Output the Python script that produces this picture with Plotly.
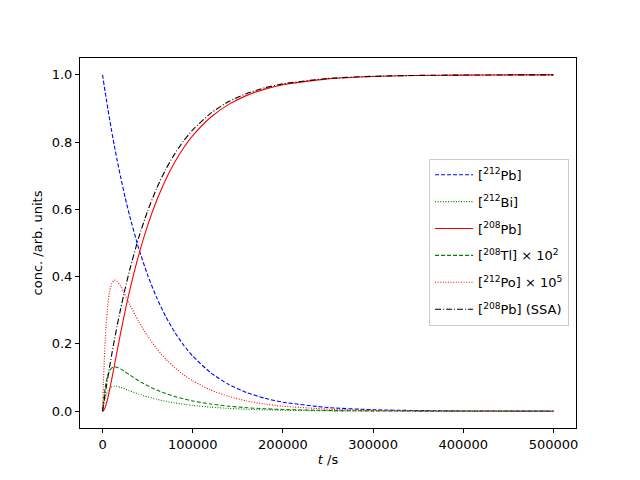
import plotly.graph_objects as go

# time grid (s) and concentrations
t = [0, 1000, 2000, 3000, 4000, 6000, 8000, 10000, 13000, 16000, 20000, 25000,
     30000, 40000, 50000, 60000, 70000, 80000, 90000, 100000, 120000, 140000,
     160000, 180000, 200000, 250000, 300000, 350000, 400000, 450000, 500000]

pb212 = [1.0, 0.9821, 0.9645, 0.9472, 0.9302, 0.8971, 0.8652, 0.8344, 0.7903,
         0.7485, 0.6963, 0.6360, 0.5810, 0.4848, 0.4045, 0.3376, 0.2817, 0.2350,
         0.1961, 0.1637, 0.1140, 0.0793, 0.0552, 0.0385, 0.0268, 0.0108, 0.0044,
         0.0018, 0.0007, 0.0003, 0.0001]

bi212 = [0.0, 0.0163, 0.0295, 0.0401, 0.0486, 0.0607, 0.0679, 0.0719, 0.0741,
         0.0735, 0.0707, 0.0658, 0.0606, 0.0508, 0.0424, 0.0354, 0.0295, 0.0246,
         0.0206, 0.0172, 0.0119, 0.0083, 0.0058, 0.0040, 0.0028, 0.0011, 0.0005,
         0.0002, 0.0001, 0.0, 0.0]

pb208 = [0.0, 0.0013, 0.0055, 0.0120, 0.0203, 0.0412, 0.0657, 0.0924, 0.1343,
         0.1766, 0.2318, 0.2970, 0.3574, 0.4635, 0.5523, 0.6264, 0.6883, 0.7399,
         0.7830, 0.8189, 0.8739, 0.9122, 0.9389, 0.9574, 0.9704, 0.9880, 0.9952,
         0.9980, 0.9992, 0.9997, 0.9999]

tl208_x100 = [0.0, 0.0291, 0.0525, 0.0715, 0.0866, 0.1080, 0.1209, 0.1280, 0.1318,
              0.1308, 0.1258, 0.1171, 0.1078, 0.0904, 0.0755, 0.0630, 0.0525, 0.0438,
              0.0366, 0.0305, 0.0213, 0.0148, 0.0103, 0.0072, 0.0050, 0.0020, 0.0008,
              0.0003, 0.0001, 0.0001, 0.0]

po212_x1e5 = [0.0, 0.0859, 0.1553, 0.2111, 0.2558, 0.3191, 0.3572, 0.3782, 0.3896,
              0.3866, 0.3717, 0.3460, 0.3185, 0.2670, 0.2230, 0.1861, 0.1553, 0.1296,
              0.1081, 0.0902, 0.0628, 0.0438, 0.0305, 0.0212, 0.0148, 0.0060, 0.0024,
              0.0010, 0.0004, 0.0002, 0.0001]

pb208_ssa = [0.0, 0.0179, 0.0356, 0.0529, 0.0698, 0.1029, 0.1348, 0.1656, 0.2097,
             0.2515, 0.3037, 0.3640, 0.4190, 0.5152, 0.5955, 0.6624, 0.7183, 0.7650,
             0.8039, 0.8364, 0.8861, 0.9207, 0.9448, 0.9615, 0.9732, 0.9892, 0.9956,
             0.9982, 0.9993, 0.9997, 0.9999]

DASHED = "4px,2px"
DOTTED = "1px,1.6px"
DASHDOT = "6px,2px,1px,2px"

series = [
    ("[<sup>212</sup>Pb]", pb212, "#0000ff", DASHED),
    ("[<sup>212</sup>Bi]", bi212, "#008000", DOTTED),
    ("[<sup>208</sup>Pb]", pb208, "#ff0000", "solid"),
    ("[<sup>208</sup>Tl] × 10<sup>2</sup>", tl208_x100, "#008000", DASHED),
    ("[<sup>212</sup>Po] × 10<sup>5</sup>", po212_x1e5, "#ff0000", DOTTED),
    ("[<sup>208</sup>Pb] (SSA)", pb208_ssa, "#000000", DASHDOT),
]

fig = go.Figure()
for i, (name, y, color, dash) in enumerate(series):
    fig.add_trace(go.Scatter(
        x=t, y=y, name=name, mode="lines", legendgroup=str(i),
        line=dict(color=color, dash=dash, width=1.1, shape="spline", smoothing=0.6),
    ))

axis_style = dict(
    showgrid=False, zeroline=False, showline=True, linecolor="black",
    linewidth=1, mirror=True, ticks="outside", ticklen=4, tickcolor="black",
    tickfont=dict(size=13), title_font=dict(size=13),
)

# page body has an 8px offset, so margins are shifted to match the reference
fig.update_layout(
    width=640, height=480,
    paper_bgcolor="white", plot_bgcolor="white",
    margin=dict(l=72, r=72, t=50, b=60),
    font=dict(family="DejaVu Sans", size=13, color="black"),
    xaxis=dict(range=[-25000, 525000], tickvals=[0, 100000, 200000, 300000, 400000, 500000],
               tickformat="d", title=dict(text="<i>t</i> /s", standoff=4), **axis_style),
    yaxis=dict(range=[-0.05, 1.05], tickvals=[0, 0.2, 0.4, 0.6, 0.8, 1.0],
               tickformat=".1f", title=dict(text="conc. /arb. units", standoff=6), **axis_style),
    legend=dict(x=0.986, y=0.502, xanchor="right", yanchor="middle",
                bgcolor="rgba(255,255,255,0.8)", bordercolor="#cccccc", borderwidth=1,
                font=dict(size=13), tracegroupgap=7, itemwidth=38),
    showlegend=True,
)

fig.write_html("out.html")
